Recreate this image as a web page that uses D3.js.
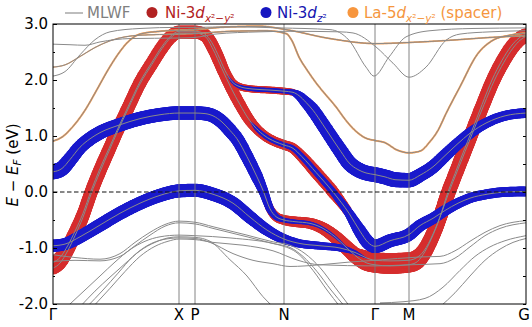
<!DOCTYPE html>
<html>
<head>
<meta charset="utf-8">
<script src="https://cdn.jsdelivr.net/npm/d3@7"></script>
<style>
  body { margin: 0; background: #fff; }
  svg { display: block; font-family: "DejaVu Sans", sans-serif; }
</style>
</head>
<body>
<div id="chart"></div>
<script>
// k-path (arbitrary path length units) and labels
const kTicks = [0, 126, 142, 231, 322, 356, 473]
const kLabels = ["Γ", "X", "P", "N", "Γ", "M", "G"]
const yTicks = [-2, -1, 0, 1, 2, 3]
const yMinor = [-1.5, -0.5, 0.5, 1.5, 2.5]

// Ni bands: [k, E, weight Ni-3d x2-y2, weight Ni-3d z2]
const bandD1 = [[0,-1.26,.58,0],[7,-1.17,.58,0],[15,-0.95,.56,0],[22,-0.7,.55,0],[30,-0.38,.55,0],[38,0.02,.55,0],[47,0.42,.55,0],[56,0.78,.55,0],[65,1.14,.55,0],[75,1.52,.55,0],[87,1.97,.55,0],[99,2.32,.55,0],[109,2.6,.55,0],[118,2.79,.55,0],[126,2.87,.52,0],[142,2.87,.52,0],[150,2.84,.52,0],[157,2.72,.5,0],[165,2.45,.48,0],[172,2.17,.42,0],[179,1.97,.34,.12],[187,1.88,.32,.18],[199,1.84,.32,.2],[217,1.82,.32,.2],[231,1.8,.32,.2],[240,1.78,.3,.25],[246,1.72,.22,.4],[253,1.6,.12,.52],[260,1.46,.05,.6],[270,1.2,0,.62],[280,0.93,0,.64],[288,0.72,0,.66],[296,0.52,0,.68],[305,0.4,0,.68],[313,0.34,0,.68],[322,0.31,0,.68],[332,0.27,0,.68],[342,0.22,0,.68],[356,0.21,0,.66],[367,0.3,0,.62],[380,0.45,0,.6],[392,0.65,0,.57],[404,0.85,0,.54],[417,1.05,0,.5],[434,1.24,0,.47],[452,1.36,0,.45],[473,1.41,0,.45]]
const bandD2 = [[0,-1.36,.58,0],[7,-1.27,.58,0],[15,-1.04,.56,0],[22,-0.78,.55,0],[30,-0.45,.55,0],[38,-0.04,.55,0],[47,0.36,.55,0],[56,0.73,.55,0],[65,1.1,.55,0],[75,1.48,.55,0],[87,1.93,.55,0],[99,2.28,.55,0],[109,2.56,.55,0],[118,2.76,.55,0],[126,2.84,.52,0],[142,2.84,.52,0],[152,2.78,.52,0],[160,2.55,.52,0],[169,2.2,.52,0],[178,1.86,.52,0],[187,1.56,.52,0],[195,1.32,.5,0],[203,1.14,.45,.18],[212,1.0,.44,.22],[222,0.9,.44,.22],[231,0.84,.44,.22],[240,0.78,.46,.24],[249,0.63,.5,.26],[263,0.35,.55,.28],[280,0.0,.55,.3],[296,-0.38,.4,.42],[307,-0.7,.15,.58],[315,-0.9,.05,.62],[322,-0.97,0,.62],[337,-0.87,0,.6],[356,-0.76,0,.58],[367,-0.6,0,.55],[380,-0.47,0,.52],[392,-0.33,0,.5],[405,-0.2,0,.48],[417,-0.11,0,.46],[434,-0.04,0,.45],[452,0.0,0,.45],[473,0.01,0,.45]]
const bandBu = [[0,0.36,0,.7],[9,0.42,0,.68],[17,0.58,0,.65],[27,0.8,0,.62],[37,0.95,0,.62],[47,1.06,0,.62],[67,1.2,0,.62],[87,1.31,0,.62],[107,1.38,0,.62],[126,1.41,0,.62],[142,1.41,0,.62],[152,1.4,0,.62],[160,1.36,0,.62],[169,1.25,0,.62],[177,1.1,.1,.62],[184,0.95,.15,.6],[194,0.63,.2,.58],[204,0.27,.25,.55],[210,0.03,.3,.45],[217,-0.3,.38,.35],[223,-0.44,.42,.28],[231,-0.5,.45,.22],[242,-0.53,.48,.2],[257,-0.56,.5,.18],[269,-0.64,.55,.15],[282,-0.8,.6,.12],[294,-1.0,.65,.08],[304,-1.16,.7,.04],[314,-1.27,.72,0],[322,-1.3,.72,0],[337,-1.32,.72,0],[355,-1.3,.72,0],[363,-1.26,.7,0],[370,-1.12,.68,0],[378,-0.85,.66,0],[387,-0.45,.64,0],[394,-0.05,.62,0],[402,0.33,.6,0],[410,0.7,.6,0],[419,1.1,.58,0],[429,1.56,.56,0],[439,2.0,.55,0],[449,2.35,.55,0],[458,2.6,.55,0],[466,2.75,.55,0],[473,2.82,.55,0]]
const bandBl = [[0,-0.96,0,.56],[12,-0.93,0,.56],[27,-0.8,0,.58],[47,-0.59,0,.6],[67,-0.38,0,.6],[87,-0.2,0,.6],[107,-0.06,0,.6],[126,0.02,0,.6],[142,0.03,0,.6],[160,-0.04,0,.6],[180,-0.2,.05,.6],[197,-0.45,.15,.58],[214,-0.68,.22,.52],[231,-0.84,.25,.45],[247,-0.92,.25,.38],[267,-0.96,.25,.35],[287,-1.0,.3,.32],[302,-1.08,.45,.2],[314,-1.18,.65,.05],[322,-1.22,.72,0],[337,-1.23,.72,0],[355,-1.22,.72,0],[363,-1.18,.7,0],[371,-1.05,.68,0],[380,-0.75,.66,0],[389,-0.35,.64,0],[396,0.0,.62,0],[404,0.36,.6,0],[412,0.72,.6,0],[421,1.12,.58,0],[431,1.56,.56,0],[441,1.98,.55,0],[451,2.32,.55,0],[460,2.57,.55,0],[467,2.71,.55,0],[473,2.78,.55,0]]

// La spacer bands: [k, E, weight La-5d x2-y2]
const bandO1 = [[0,0.91,.09],[9,0.98,.09],[19,1.15,.09],[32,1.46,.09],[44,1.83,.09],[55,2.18,.09],[65,2.46,.09],[75,2.68,.09],[87,2.82,.09],[107,2.87,.09],[126,2.89,.09],[142,2.9,.09],[167,2.94,.09],[207,2.96,.09],[233,2.9,.08],[277,2.74,.08],[323,2.65,.08],[356,2.67,.08],[397,2.71,.08],[437,2.76,.08],[473,2.79,.08]]
const bandO2 = [[0,2.23,.06],[12,2.27,.06],[27,2.42,.06],[42,2.58,.06],[57,2.7,.06],[87,2.8,.07],[126,2.82,.07],[142,2.83,.07],[177,2.87,.08],[213,2.88,.08],[233,2.83,.09],[239,2.7,.09],[246,2.41,.09],[254,2.18,.09],[263,1.95,.09],[273,1.73,.09],[283,1.52,.09],[292,1.3,.09],[302,1.1,.09],[313,0.96,.09],[322,0.92,.09],[332,0.88,.09],[344,0.75,.09],[356,0.7,.09],[367,0.73,.09],[377,0.9,.09],[385,1.1,.09],[393,1.4,.09],[407,1.88,.09],[424,2.45,.09],[440,2.71,.09],[457,2.8,.09],[473,2.84,.09]]

// other MLWF bands: [k, E]
const bandC = [[0,2.07],[12,2.15],[27,2.45],[42,2.72],[57,2.86],[87,2.92],[126,2.94],[142,2.94],[177,2.95],[227,2.93],[277,2.9],[296,2.71],[313,2.23],[321,2.07],[336,2.41],[353,2.77],[377,2.88],[420,2.92],[473,2.93]]
const bandA = [[0,2.64],[17,2.63],[32,2.62],[47,2.68],[77,2.74],[126,2.75],[142,2.76],[162,2.82],[207,2.86],[237,2.87],[287,2.86],[300,2.84],[323,2.59],[340,2.3],[356,2.05],[373,2.23],[393,2.71],[407,2.82],[437,2.86],[473,2.88]]
const bandL1 = [[0,-1.12],[22,-1.17],[47,-1.2],[67,-1.1],[82,-0.9],[97,-0.72],[112,-0.58],[126,-0.52],[142,-0.54],[160,-0.62],[194,-0.77],[220,-0.89],[237,-0.95],[252,-1.1],[267,-1.35],[282,-1.7],[297,-2.05]]
const bandL2 = [[0,-1.24],[22,-1.22],[47,-1.23],[67,-1.15],[82,-0.96],[97,-0.77],[112,-0.61],[126,-0.55],[142,-0.57],[160,-0.65],[194,-0.8],[220,-0.92],[237,-0.99],[250,-1.15],[264,-1.42],[278,-1.75],[292,-2.05]]
const bandL3 = [[14,-2.05],[32,-1.75],[47,-1.5],[62,-1.25],[77,-1.03],[92,-0.88],[107,-0.8],[126,-0.77],[142,-0.78],[177,-0.82],[227,-0.95],[245,-1.1],[260,-1.4],[274,-1.75],[287,-2.05]]
const bandL4 = [[27,-2.05],[42,-1.77],[57,-1.52],[72,-1.28],[87,-1.05],[102,-0.9],[115,-0.82],[126,-0.8],[142,-0.81],[157,-0.88],[177,-1.21],[194,-1.5],[210,-1.87],[220,-2.05]]
const bandL5 = [[34,-2.05],[50,-1.75],[65,-1.45],[80,-1.15],[95,-0.95],[110,-0.85],[126,-0.82],[142,-0.83],[157,-0.9],[180,-1.1],[200,-1.22],[220,-1.28],[237,-1.33],[267,-1.3],[297,-1.25],[322,-1.22],[367,-1.16],[387,-1.15],[402,-1.05],[417,-0.88],[432,-0.72],[447,-0.6],[473,-0.51]]
const bandL6 = [[40,-2.05],[57,-1.72],[72,-1.42],[87,-1.15],[102,-0.97],[115,-0.88],[126,-0.84],[142,-0.85],[160,-0.9],[190,-0.95],[220,-1.05],[245,-1.22],[267,-1.3],[322,-1.32],[356,-1.3],[387,-1.28],[402,-1.18],[417,-0.98],[432,-0.78],[447,-0.65],[473,-0.55]]
const bandL7 = [[327,-1.98],[350,-1.96],[372,-1.9],[390,-1.7],[407,-1.4],[422,-1.15],[437,-0.98],[452,-0.87],[473,-0.78]]
const bandL8 = [[387,-2.05],[402,-1.8],[417,-1.5],[432,-1.22],[447,-1.02],[460,-0.9],[473,-0.83]]

const allBands = [bandD1, bandD2, bandBu, bandBl, bandO1, bandO2, bandC, bandA,
  bandL1, bandL2, bandL3, bandL4, bandL5, bandL6, bandL7, bandL8]

const red = "#d62e2e", blue = "#1a1acc", orange = "#f59e55"

let width = 532, height = 327
let margin = { top: 24, right: 6, bottom: 23, left: 53 }

let x = d3.scaleLinear().domain([0, 473]).range([margin.left, width - margin.right])
let y = d3.scaleLinear().domain([-2, 3]).range([height - margin.bottom, margin.top])
let radius = d3.scaleLinear().domain([0, 1]).range([0, 11])

let line = d3.line()
  .x(d => x(d[0]))
  .y(d => y(d[1]))
  .curve(d3.curveMonotoneX)

let svg = d3.select("#chart").append("svg")
  .attr("width", width)
  .attr("height", height)

svg.append("clipPath").attr("id", "plot")
  .append("rect")
  .attr("x", x(0)).attr("y", y(3))
  .attr("width", x(473) - x(0)).attr("height", y(-2) - y(3))

let plot = svg.append("g").attr("clip-path", "url(#plot)")

// fat bands: scatter of circles along each band, radius from its weight
function fatPoints(band, col) {
  let tmp = svg.append("path").attr("d", line(band))
  let node = tmp.node(), len = node.getTotalLength()
  let weight = d3.scaleLinear()
    .domain(band.map(d => d[0]))
    .range(band.map(d => d[col]))
    .clamp(true)
  let pts = []
  for (let s = 0; s <= len; s += 1) {
    let p = node.getPointAtLength(s)
    let r = radius(weight(x.invert(p.x)))
    if (r > 0.5) pts.push([p.x, p.y, r])
  }
  tmp.remove()
  return pts
}

let layers = [
  { bands: [bandD1, bandD2, bandBu, bandBl], col: 2, color: red },
  { bands: [bandD1, bandD2, bandBu, bandBl], col: 3, color: blue },
  { bands: [bandO1, bandO2], col: 2, color: orange }
]

layers.forEach(layer => {
  let g = plot.append("g").attr("fill", layer.color)
  layer.bands.forEach(band => {
    g.selectAll(null)
      .data(fatPoints(band, layer.col))
      .enter().append("circle")
      .attr("cx", d => d[0])
      .attr("cy", d => d[1])
      .attr("r", d => d[2])
  })
})

// high symmetry lines
plot.selectAll(".kline")
  .data(kTicks.slice(1, -1))
  .enter().append("line")
  .attr("x1", d => x(d)).attr("x2", d => x(d))
  .attr("y1", y(3)).attr("y2", y(-2))
  .attr("stroke", "#777")
  .attr("stroke-width", 0.9)

// MLWF bands
plot.selectAll(".band")
  .data(allBands)
  .enter().append("path")
  .attr("d", line)
  .attr("fill", "none")
  .attr("stroke", "#8a8a8a")
  .attr("stroke-width", 1)

// Fermi level
plot.append("line")
  .attr("x1", x(0)).attr("x2", x(473))
  .attr("y1", y(0)).attr("y2", y(0))
  .attr("stroke", "#111")
  .attr("stroke-width", 1.2)
  .attr("stroke-dasharray", "4.5,2.5")

// axes
let yAxis = d3.axisLeft(y).tickValues(yTicks).tickSize(-4).tickSizeOuter(0).tickPadding(5)
  .tickFormat(d => d.toFixed(1))
let gy = svg.append("g").attr("transform", `translate(${x(0)},0)`).call(yAxis)
gy.select(".domain").remove()
gy.selectAll("text").attr("font-size", 15).attr("font-family", "DejaVu Sans").attr("fill", "#000")
gy.selectAll("line").attr("stroke", "#000")

let gyMinor = svg.append("g").attr("transform", `translate(${x(0)},0)`)
  .call(d3.axisLeft(y).tickValues(yMinor).tickSize(-2).tickFormat(""))
gyMinor.select(".domain").remove()

let gyRight = svg.append("g").attr("transform", `translate(${x(473)},0)`)
  .call(d3.axisRight(y).tickValues(yTicks.concat(yMinor)).tickSize(-3).tickFormat(""))
gyRight.select(".domain").remove()

svg.append("rect")
  .attr("x", x(0)).attr("y", y(3))
  .attr("width", x(473) - x(0)).attr("height", y(-2) - y(3))
  .attr("fill", "none").attr("stroke", "#000").attr("stroke-width", 1)

svg.selectAll(".klabel")
  .data(kTicks)
  .enter().append("text")
  .attr("x", (d, i) => i === kTicks.length - 1 ? x(d) - 2 : x(d))
  .attr("y", 320)
  .attr("text-anchor", "middle")
  .attr("font-size", 15)
  .text((d, i) => kLabels[i])

// y label
let yl = svg.append("text")
  .attr("transform", `translate(18,165) rotate(-90)`)
  .attr("text-anchor", "middle")
  .attr("font-size", 15)
yl.append("tspan").attr("font-style", "italic").text("E")
yl.append("tspan").text(" − ")
yl.append("tspan").attr("font-style", "italic").text("E")
yl.append("tspan").attr("font-style", "italic").attr("font-size", 10.5).attr("dy", 3).text("F")
yl.append("tspan").attr("dy", -3).text(" (eV)")

// legend
let leg = svg.append("g").attr("font-size", 15)
leg.append("line").attr("x1", 65).attr("x2", 83).attr("y1", 13).attr("y2", 13)
  .attr("stroke", "#9a9a9a").attr("stroke-width", 1.3)
leg.append("text").attr("x", 87).attr("y", 18).attr("fill", "#808080").text("MLWF")

function legendItem(cx, tx, dotColor, textColor, sub, tail) {
  leg.append("circle").attr("cx", cx).attr("cy", 12.5).attr("r", 5.5).attr("fill", dotColor)
  let t = leg.append("text").attr("x", tx).attr("y", 18).attr("fill", textColor)
  t.append("tspan").text(sub[0])
  t.append("tspan").attr("font-style", "italic").text("d")
  let s = t.append("tspan").attr("font-size", 10.5).attr("dy", 3.5)
  sub[1].forEach(p => s.append("tspan").attr("font-style", p[1] ? "italic" : "normal").text(p[0]))
  if (tail) t.append("tspan").attr("dy", -3.5).text(tail)
}
legendItem(152, 165, "#b22222", "#b22222", ["Ni-3", [["x", 1], ["²−", 0], ["y", 1], ["²", 0]]])
legendItem(266, 277, "#1515c0", "#1515b0", ["Ni-3", [["z", 1], ["²", 0]]])
legendItem(353, 364, "#f7963e", "#f5963e", ["La-5", [["x", 1], ["²−", 0], ["y", 1], ["²", 0]]], " (spacer)")
</script>
</body>
</html>
